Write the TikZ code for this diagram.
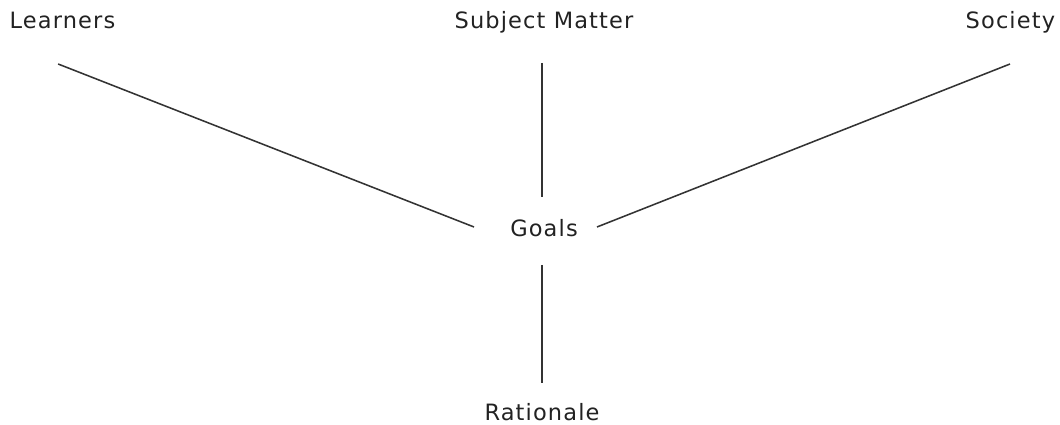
\documentclass[tikz,border=0pt]{standalone}
\usepackage{fontspec}
\setmainfont{DejaVu Sans}[LetterSpace=5]
\usepackage{xcolor}
\usetikzlibrary{positioning}
\definecolor{LabelInk}{HTML}{222222}
\definecolor{LinkInk}{HTML}{333333}

\begin{document}
\begin{tikzpicture}[
  every node/.style={font=\fontsize{16pt}{19pt}\selectfont, text=LabelInk,
    inner sep=0pt, anchor=base},
  link/.style={draw=LinkInk, line width=1.1pt}
]
  \useasboundingbox (0,0) rectangle (26.5,10.625);

  % Sources
  \node (learn) at (1.5625,9.9) {Learners};
  \node (subj) at (13.6,9.9) {Subject Matter};
  \node (soc) at (25.26,9.9) {Society};

  % Goals and rationale
  \node (goals) at (13.6,4.7) {Goals};
  \node (rat) at (13.55,0.12) {Rationale};

  % Links
  \draw[link] ([xshift=-0.11cm, yshift=-0.875cm]learn.base)
    -- ([xshift=-1.75cm, yshift=0.25cm]goals.base);
  \draw[link] ([xshift=-0.05cm, yshift=-0.85cm]subj.base)
    -- ([xshift=-0.05cm, yshift=1.0cm]goals.base);
  \draw[link] ([xshift=-0.01cm, yshift=-0.875cm]soc.base)
    -- ([xshift=1.325cm, yshift=0.25cm]goals.base);
  \draw[link] ([xshift=-0.05cm, yshift=-0.7cm]goals.base)
    -- ([yshift=0.93cm]rat.base);
\end{tikzpicture}
\end{document}
